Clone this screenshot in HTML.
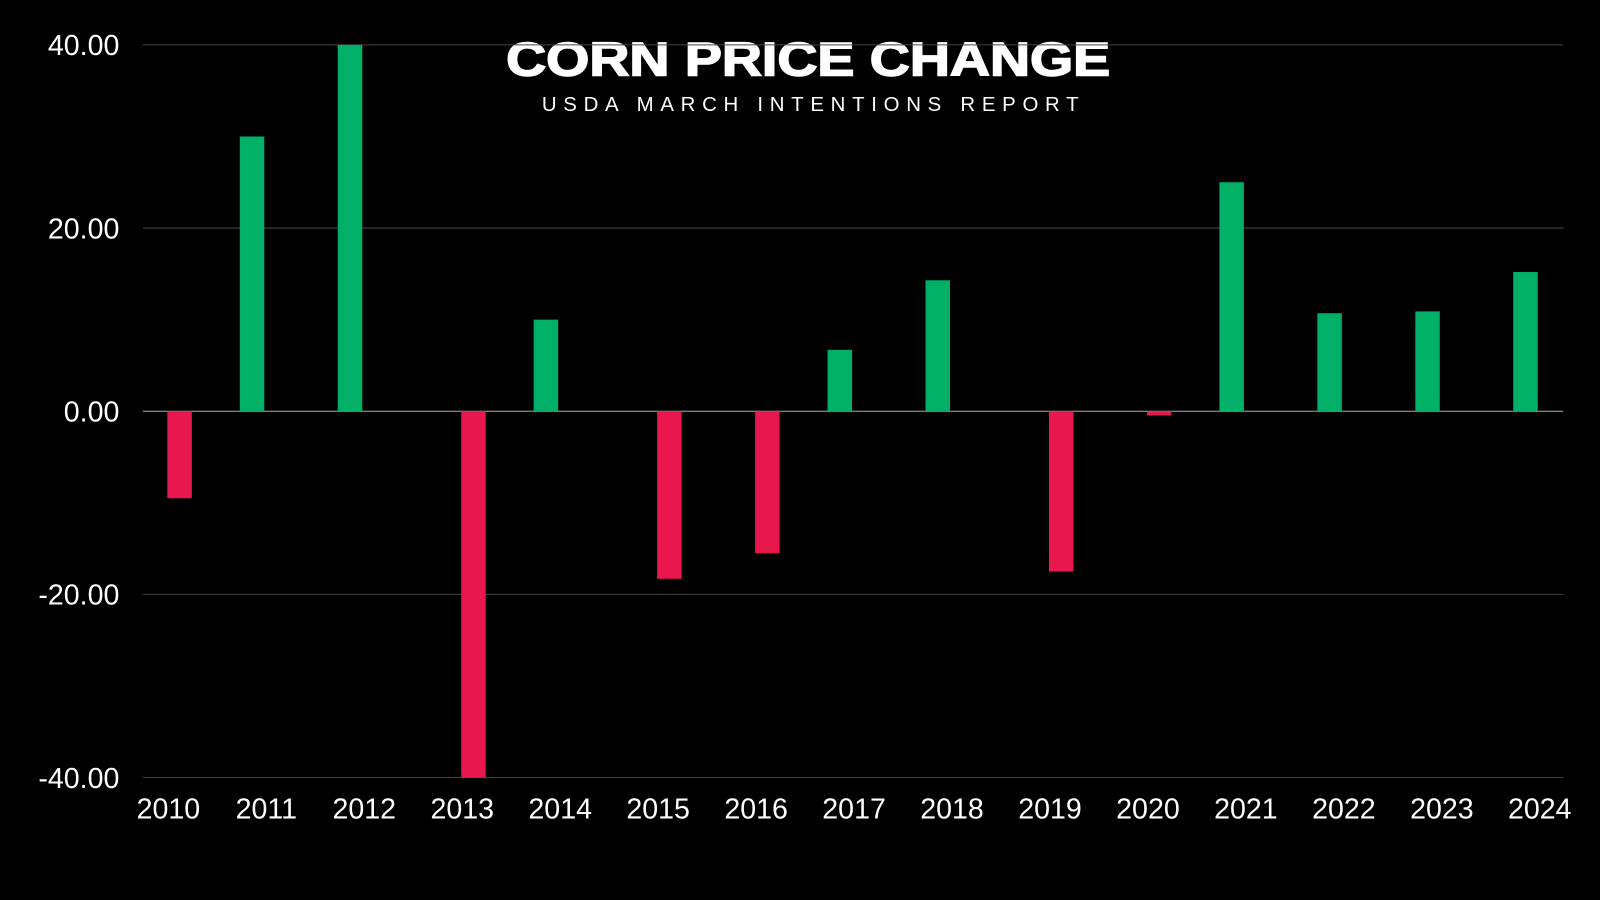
<!DOCTYPE html>
<html><head><meta charset="utf-8"><style>
html,body{margin:0;padding:0;background:#000;}
svg{display:block;font-family:"Liberation Sans",sans-serif;}
</style></head><body>
<svg id="chart" width="1600" height="900" viewBox="0 0 1568 882" xmlns="http://www.w3.org/2000/svg">
<rect width="1568" height="882" fill="#000"/>
<text x="792" y="74" text-anchor="middle" fill="#fff" font-size="46" font-weight="900" textLength="592" lengthAdjust="spacingAndGlyphs" stroke="#fff" stroke-width="1.5">CORN PRICE CHANGE</text>
<text x="794" y="109" text-anchor="middle" fill="#fff" font-size="20" textLength="526" lengthAdjust="spacing">USDA MARCH INTENTIONS REPORT</text>
<g id="grid"></g><g id="bars"></g><g id="labels"></g>
</svg>
<script>
const categories=["2010","2011","2012","2013","2014","2015","2016","2017","2018","2019","2020","2021","2022","2023","2024"];
const values=[-9.5,30,40,-40,10,-18.3,-15.5,6.7,14.3,-17.5,-0.45,25,10.7,10.9,15.2];
const yTicks=[40,20,0,-20,-40];
const yTickLabels=["40.00","20.00","0.00","-20.00","-40.00"];
const NS="http://www.w3.org/2000/svg";
const plotL=140,plotR=1532,y0=403,pxPer=8.975;
const y=v=>y0-v*pxPer;
const xLab=i=>165+i*(1509-165)/(categories.length-1);
const xBar=(i,v)=>xLab(i)+(v<0?11:-14);
function mk(t,a,p){const e=document.createElementNS(NS,t);for(const k in a)e.setAttribute(k,a[k]);p.appendChild(e);return e;}
const grid=document.getElementById('grid'),bars=document.getElementById('bars'),labels=document.getElementById('labels');
yTicks.forEach((v,i)=>{
 const l=mk('line',{x1:plotL,x2:plotR,y1:y(v),y2:y(v),stroke:v===0?'#aaa':'#444','stroke-width':1},grid);
 
 
 const t=mk('text',{x:117,y:y(v)+10,'text-anchor':'end',fill:'#fff','font-size':28},labels);
 t.textContent=yTickLabels[i];
 
 
});
values.forEach((v,i)=>{
 const top=Math.min(y(v),y0),h=Math.abs(y(v)-y0);
 const r=mk('rect',{x:xBar(i,v)-12,y:top,width:24,height:h,fill:v>=0?'#00b066':'#e8174e'},bars);
 
 
 const t=mk('text',{x:xLab(i),y:802,'text-anchor':'middle',fill:'#fff','font-size':28},labels);
 t.textContent=categories[i];
 
 
});
</script>
</body></html>
